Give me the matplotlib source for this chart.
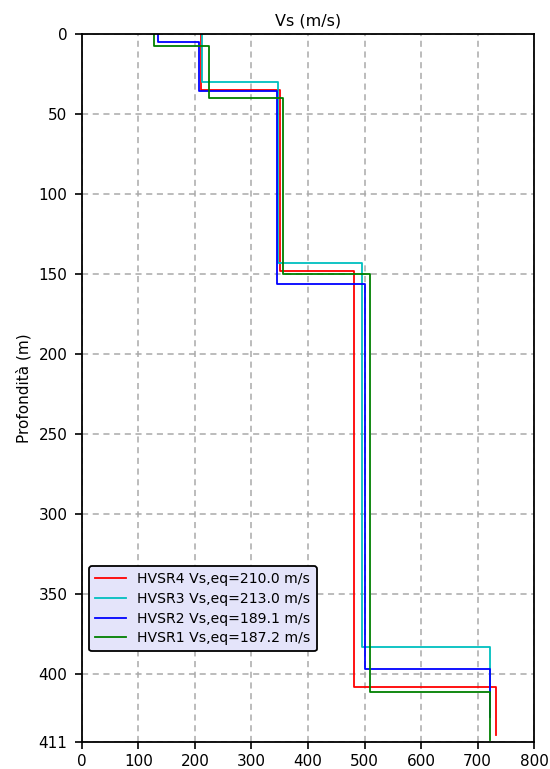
import matplotlib
matplotlib.use("Agg")
import matplotlib.pyplot as plt
import numpy as np

# Layered shear-wave velocity profiles: velocity of each layer (m/s)
# and depth of each interface (m); the last layer is the half-space.
names = ["HVSR4", "HVSR3", "HVSR2", "HVSR1"]
vs_eq = [210.0, 213.0, 189.1, 187.2]
colors = ["red", "c", "blue", "green"]

vs_hvsr4 = [210, 350, 481, 732]
z_hvsr4 = [35, 148, 408]
vs_hvsr3 = [213, 347, 496, 722]
z_hvsr3 = [30, 143, 383]
vs_hvsr2 = [135, 207, 346, 500, 722]
z_hvsr2 = [5.3, 36, 156, 397]
vs_hvsr1 = [127, 225, 355, 510, 722]
z_hvsr1 = [7.8, 40, 150, 411]

half_space = 30.0  # extra thickness drawn for the half-space
y_ticks = [0, 50, 100, 150, 200, 250, 300, 350, 400]
y_bottom = 442.5
bottom_label = "411"
x_ticks = [0, 100, 200, 300, 400, 500, 600, 700, 800]

profiles = [(vs_hvsr4, z_hvsr4), (vs_hvsr3, z_hvsr3),
            (vs_hvsr2, z_hvsr2), (vs_hvsr1, z_hvsr1)]


def step_profile(vs, z):
    tops = [0.0] + list(z)
    bots = list(z) + [z[-1] + half_space]
    xs, ys = [], []
    for v, t, b in zip(vs, tops, bots):
        xs += [v, v]
        ys += [t, b]
    return xs, ys


fig = plt.figure(figsize=(5.5, 7.69), dpi=100)
ax = fig.add_axes([0.149, 0.035, 0.822, 0.921])

for (vs, z), name, eq, c in zip(profiles, names, vs_eq, colors):
    xs, ys = step_profile(vs, z)
    ax.plot(xs, ys, color=c, lw=1.3,
            label=f"{name} Vs,eq={eq:.1f} m/s")

ax.set_xlim(0, 800)
ax.set_ylim(y_bottom, 0)
ax.set_xticks(x_ticks)
ax.set_yticks(y_ticks + [y_bottom])
ax.set_yticklabels([str(t) for t in y_ticks] + [bottom_label])
ax.tick_params(labelsize=11, width=1.2, length=5)
ax.tick_params(axis="y", pad=5.5)
for s in ax.spines.values():
    s.set_linewidth(1.3)

ax.grid(True, color="#aaaaaa", linestyle=(0, (4, 3)), lw=1.1)
ax.set_title("Vs (m/s)", fontsize=11.5, pad=6)
ax.set_ylabel("Profondità (m)", fontsize=11, labelpad=5)

leg = ax.legend(loc="lower left", bbox_to_anchor=(0.0, 0.118),
                fontsize=10.1, fancybox=True, framealpha=1.0,
                facecolor="#e4e4fa", edgecolor="black",
                handlelength=2.2, borderpad=0.45, labelspacing=0.4)
leg.get_frame().set_linewidth(1.3)

fig.savefig("out.png", dpi=100)
